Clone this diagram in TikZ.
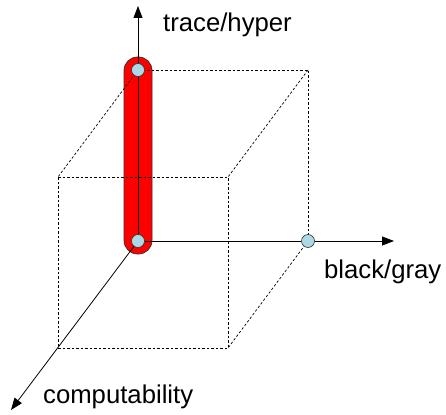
\documentclass[tikz,border=0pt]{standalone}
\usepackage{fontspec}
\setmainfont{Liberation Sans}
\usetikzlibrary{arrows.meta}
\begin{document}
\begin{tikzpicture}[x=1pt,y=-1pt,
  cubeline/.style={densely dashed,line width=0.7pt,dash pattern=on 2.5pt off 2pt},
  axis/.style={line width=0.8pt,-{Triangle[length=12pt,width=9pt]}},
  dot/.style={circle,draw=black!80,line width=0.6pt,fill={rgb,255:red,173;green,216;blue,230},minimum size=13pt,inner sep=0pt},
  lbl/.style={font=\fontsize{25.7}{28}\selectfont,inner sep=0pt,anchor=base west}]
\useasboundingbox (0,0) rectangle (446,414);
% cube corners
\coordinate (Bo) at (138,241);
\coordinate (Bt) at (138,70);
\coordinate (Btr) at (308,70);
\coordinate (Br) at (308,241);
\coordinate (Ft) at (58,177);
\coordinate (Ftr) at (228,177);
\coordinate (Fr) at (228,348);
\coordinate (Fo) at (58,348);
% pill
\fill[red,draw=black!80,line width=0.7pt,rounded corners=13.5pt] (124,57) rectangle (152,254);
% dashed cube
\draw[cubeline] (Bt) -- (Btr) -- (Br);
\draw[cubeline] (Bt) -- (Ft);
\draw[cubeline] (Btr) -- (Ftr);
\draw[cubeline] (Br) -- (Fr);
\draw[cubeline] (Ft) -- (Ftr) -- (Fr) -- (Fo) -- cycle;
% axis ends
\coordinate (Ytip) at (138,6);
\coordinate (Xtip) at (394,241);
\coordinate (Ztip) at (11,410);
\draw[axis] (Bo) -- (Ytip);
\draw[axis] (Bo) -- (Xtip);
\draw[axis] (Bo) -- (Ztip);
% dots
\node[dot] (O) at (Bo) {};
\node[dot] (T) at (Bt) {};
\node[dot] (R) at (Br) {};
% labels
\node[lbl] (ly) at (163,32) {trace/hyper};
\node[lbl] (lx) at (324,278) {black/gray};
\node[lbl] (lz) at (43,403) {computability};
\end{tikzpicture}
\end{document}
